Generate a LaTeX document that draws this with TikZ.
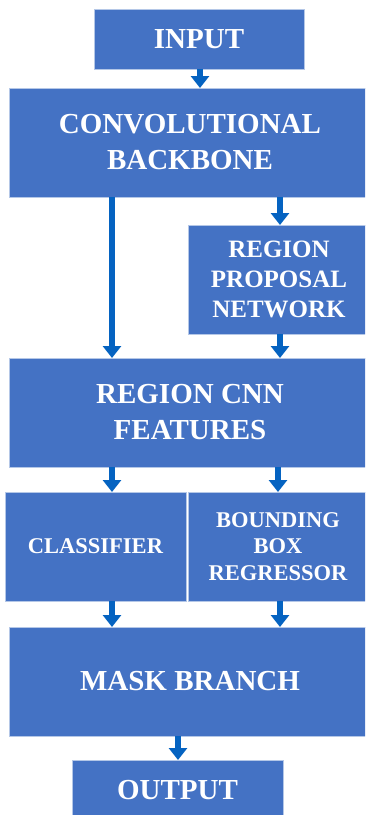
\documentclass[tikz,border=0pt]{standalone}
\usepackage{fontspec}
\setmainfont{Liberation Serif}
\usetikzlibrary{arrows.meta}
\definecolor{boxblue}{HTML}{4472C4}
\definecolor{boxedge}{HTML}{B4C7E7}
\definecolor{arrowblue}{HTML}{0563C1}
\tikzset{
  blk/.style={draw=boxedge, line width=1pt, fill=boxblue, text=white, inner sep=0pt, outer sep=0pt,
    align=center, font=\bfseries},
  big/.style={font=\fontsize{29}{36}\selectfont\bfseries},
  mid/.style={font=\fontsize{25}{30}\selectfont\bfseries},
  sml/.style={font=\fontsize{22.5}{26.5}\selectfont\bfseries},
  flow/.style={draw=arrowblue, line width=6pt, -{Triangle[width=18pt,length=12pt]}}
}
\begin{document}
\begin{tikzpicture}[x=1pt,y=1pt]
\useasboundingbox (0,0) rectangle (365,-815);
\clip (0,0) rectangle (365,-815);
\node[blk,big,minimum width=210pt,minimum height=60pt] (in) at (199,-39) {INPUT};
\node[blk,big,minimum width=361pt,minimum height=109pt] (conv) at (190,-142.5) {CONVOLUTIONAL\\BACKBONE};
\node[blk,mid,minimum width=182pt,minimum height=109pt] (rpn) at (279,-279.5) {REGION\\PROPOSAL\\NETWORK};
\node[blk,big,minimum width=361pt,minimum height=109pt] (rcnn) at (190,-412.5) {REGION CNN\\FEATURES};
\node[blk,sml,minimum width=181pt,minimum height=109pt] (cls) at (95.5,-546.5) {CLASSIFIER};
\node[blk,sml,minimum width=180pt,minimum height=109pt] (bbr) at (278,-546.5) {BOUNDING\\BOX\\REGRESSOR};
\node[blk,big,minimum width=361pt,minimum height=109pt] (mask) at (190,-681.5) {MASK BRANCH};
\node[blk,big,minimum width=211pt,minimum height=60pt] (out) at (177.5,-790) {OUTPUT};
\coordinate (lx) at (112,0);
\coordinate (rx) at (280,0);
\coordinate (rx2) at (278,0);
\draw[flow] (in.south -| 200,0) -- (conv.north -| 200,0);
\draw[flow] (conv.south -| lx) -- (rcnn.north -| lx);
\draw[flow] (conv.south -| rx) -- (rpn.north -| rx);
\draw[flow] (rpn.south -| rx) -- (rcnn.north -| rx);
\draw[flow] (rcnn.south -| lx) -- (cls.north -| lx);
\draw[flow] (rcnn.south -| rx2) -- (bbr.north -| rx2);
\draw[flow] (cls.south -| lx) -- (mask.north -| lx);
\draw[flow] (bbr.south -| rx) -- (mask.north -| rx);
\draw[flow] (mask.south -| 178,0) -- (out.north -| 178,0);
\end{tikzpicture}
\end{document}
